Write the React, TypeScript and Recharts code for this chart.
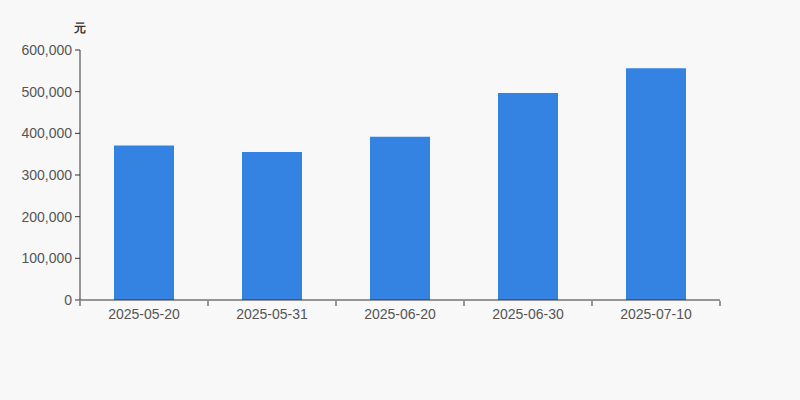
import { Bar, BarChart, XAxis, YAxis } from "recharts";

const dates = ["2025-05-20", "2025-05-31", "2025-06-20", "2025-06-30", "2025-07-10"];
const amounts = [371000, 355000, 392000, 497000, 556000];
const yTicks = [0, 100000, 200000, 300000, 400000, 500000, 600000];

const data = dates.map((d, i) => ({ date: d, value: amounts[i] }));

const BAND = 128;

const DateTick = (props: any) => {
  const { x, y, payload, index } = props;
  return (
    <g>
      <line x1={x - BAND / 2} y1={y - 6} x2={x - BAND / 2} y2={y - 1} stroke="#333" />
      {index === dates.length - 1 && (
        <line x1={x + BAND / 2} y1={y - 6} x2={x + BAND / 2} y2={y - 1} stroke="#333" />
      )}
      <text x={x} y={y + 12} textAnchor="middle" fill="#555" fontSize={14}>
        {payload.value}
      </text>
    </g>
  );
};

const App = () => {
  return (
    <div
      style={{
        position: "absolute",
        left: 0,
        top: 0,
        width: 800,
        height: 400,
        background: "#f8f8f8",
        fontFamily: "'Liberation Sans', Arial, sans-serif",
      }}
    >
      <BarChart
        width={800}
        height={400}
        data={data}
        margin={{ top: 50, right: 80, bottom: 70, left: 0 }}
      >
        <XAxis
          dataKey="date"
          height={30}
          stroke="#333"
          tickLine={false}
          tickSize={5}
          tick={<DateTick />}
          interval={0}
        />
        <YAxis
          width={80}
          domain={[0, 600000]}
          ticks={yTicks}
          stroke="#333"
          tickSize={5}
          tickMargin={3}
          tick={{ fill: "#555", fontSize: 14 }}
          tickFormatter={(v: number) => v.toLocaleString("en-US")}
          label={{
            value: "元",
            content: ({ viewBox }: any) => (
              <text
                x={viewBox.x + viewBox.width}
                y={viewBox.y - 18}
                textAnchor="middle"
                fontSize={12}
                fontWeight="bold"
                fill="#333"
              >
                元
              </text>
            ),
          }}
        />
        <Bar dataKey="value" fill="#3482e2" barSize={60} isAnimationActive={false} />
      </BarChart>
    </div>
  );
};

export default App;
